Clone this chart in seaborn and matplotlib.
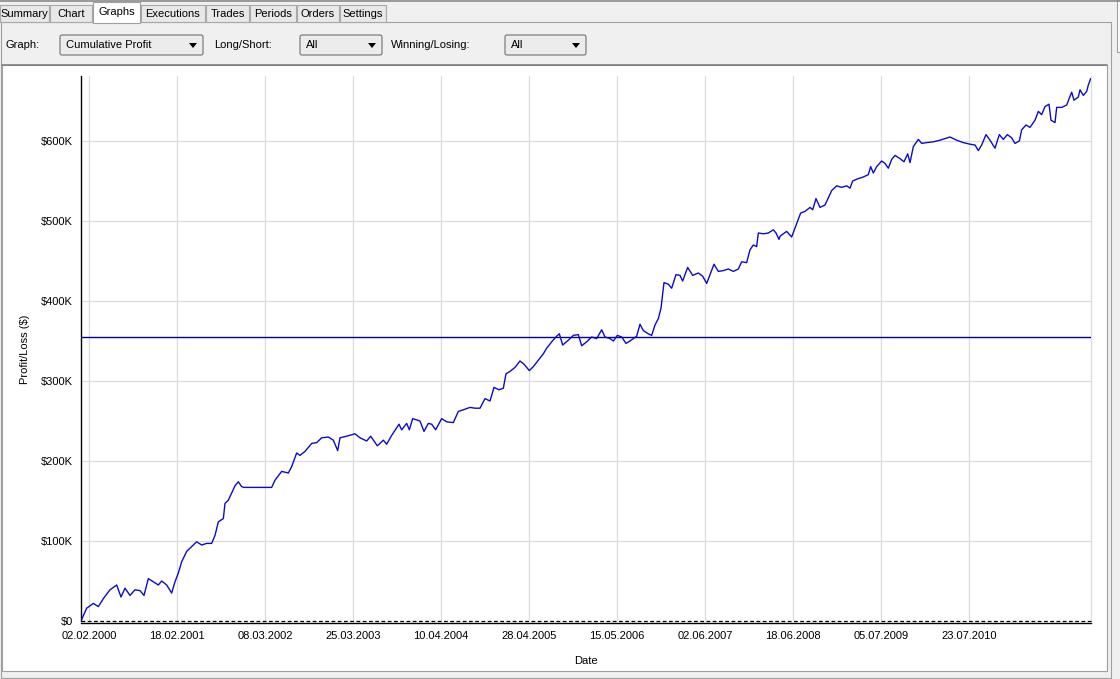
import matplotlib
matplotlib.use("Agg")
import matplotlib.pyplot as plt
import matplotlib.patches as mpatches
from matplotlib.ticker import FuncFormatter
import seaborn as sns

# trade number vs cumulative profit (in $K)
trade_no = [0, 17, 37, 52, 67, 87, 107, 120, 132, 147, 162, 177, 189, 202, 217, 232,
            242, 257, 272, 282, 292, 302, 317, 332, 347, 362, 377, 392, 402, 412, 427,
            432, 442, 452, 462, 472, 482, 489, 572, 582, 602, 622, 632, 647, 657, 672,
            692, 707, 722, 742, 757, 770, 777, 797, 822, 837, 857, 869, 889, 907, 917,
            932, 954, 962, 977, 985, 995, 1017, 1029, 1042, 1052, 1064, 1082, 1097,
            1117, 1132, 1147, 1167, 1182, 1197, 1212, 1227, 1239, 1254, 1267, 1275,
            1287, 1302, 1317, 1329, 1345, 1357, 1372, 1387, 1397, 1412, 1427, 1435,
            1445, 1462, 1477, 1492, 1502, 1517, 1532, 1547, 1562, 1572, 1587, 1597,
            1609, 1622, 1635, 1647, 1667, 1677, 1687, 1702, 1712, 1722, 1732, 1740,
            1749, 1762, 1772, 1785, 1797, 1805, 1820, 1835, 1852, 1865, 1877, 1889,
            1899, 1912, 1927, 1942, 1957, 1972, 1982, 1997, 2007, 2017, 2027, 2032,
            2047, 2062, 2077, 2085, 2094, 2097, 2117, 2132, 2142, 2159, 2172, 2187,
            2195, 2205, 2217, 2232, 2252, 2267, 2282, 2297, 2307, 2315, 2332, 2347,
            2362, 2369, 2377, 2387, 2402, 2412, 2422, 2432, 2442, 2457, 2469, 2480,
            2487, 2497, 2512, 2522, 2537, 2557, 2577, 2607, 2627, 2647, 2667, 2682,
            2692, 2702, 2715, 2727, 2742, 2755, 2767, 2779, 2792, 2802, 2815, 2822,
            2835, 2847, 2862, 2872, 2882, 2892, 2904, 2910, 2922, 2927, 2942, 2957,
            2972, 2979, 2992, 2997, 3007, 3017, 3022, 3029]
profit_k = [0, 16, 22, 18, 28, 39, 45, 30, 41, 32, 39, 38, 32, 53, 49, 45,
            50, 45, 35, 49, 60, 74, 87, 93, 99, 95, 97, 97, 107, 124, 128,
            147, 151, 160, 169, 174, 168, 167, 167, 176, 187, 185, 193, 210, 207, 212,
            222, 223, 229, 230, 226, 213, 229, 231, 234, 229, 225, 231, 219, 226, 221,
            232, 246, 239, 247, 239, 253, 250, 237, 247, 246, 239, 253, 249,
            248, 262, 264, 267, 266, 266, 278, 275, 292, 289, 291, 309,
            312, 317, 325, 321, 313, 318, 326, 334, 341, 349, 356, 359,
            345, 351, 357, 358, 344, 349, 355, 353, 364, 355, 353, 350,
            357, 355, 347, 350, 356, 371, 363, 359, 357, 370, 378, 391,
            423, 421, 416, 433, 432, 425, 442, 432, 435, 431, 422, 435,
            446, 437, 438, 440, 437, 440, 449, 448, 464, 470, 468, 485,
            484, 485, 489, 485, 477, 481, 487, 480, 491, 510, 512, 517,
            514, 528, 517, 520, 538, 544, 542, 544, 541, 550, 553, 555,
            558, 568, 560, 568, 575, 572, 566, 577, 582, 578, 574, 584,
            573, 593, 602, 597, 598, 599, 601, 605, 601, 598, 596, 595,
            588, 595, 608, 601, 591, 608, 602, 608, 604, 597, 600, 614,
            620, 617, 626, 637, 633, 643, 646, 626, 623, 642, 642, 645,
            661, 651, 655, 664, 657, 662, 670, 678]
profit = [v * 1000 for v in profit_k]

avg_line = 355000
date_ticks = [24, 288, 552, 816, 1080, 1344, 1608, 1872, 2136, 2400, 2664]
date_labels = ["02.02.2000", "18.02.2001", "08.03.2002", "25.03.2003", "10.04.2004",
               "28.04.2005", "15.05.2006", "02.06.2007", "18.06.2008", "05.07.2009",
               "23.07.2010"]
y_ticks = [0, 100000, 200000, 300000, 400000, 500000, 600000]

tabs = ["Summary", "Chart", "Graphs", "Executions", "Trades", "Periods", "Orders", "Settings"]
tab_edges = [0, 50, 93, 141, 206, 250, 297, 340, 387]

sns.set_style("white")
plt.rcParams["font.family"] = ["Liberation Sans", "DejaVu Sans"]
plt.rcParams["font.size"] = 8
plt.rcParams["text.color"] = "black"
plt.rcParams["axes.labelcolor"] = "black"
plt.rcParams["xtick.color"] = "black"
plt.rcParams["ytick.color"] = "black"

W, H = 1120, 679
fig = plt.figure(figsize=(W / 100, H / 100), dpi=100)
fig.patch.set_facecolor("#f0f0f0")

# window chrome drawn in pixel coordinates
bg = fig.add_axes([0, 0, 1, 1])
bg.set_xlim(0, W)
bg.set_ylim(H, 0)
bg.axis("off")

def box(x0, y0, x1, y1, fc, ec, lw=1.0, z=1):
    bg.add_patch(mpatches.Rectangle((x0, y0), x1 - x0, y1 - y0, facecolor=fc,
                                    edgecolor=ec, linewidth=lw, zorder=z))

bg.plot([0, W], [1, 1], color="#8a8a8a", lw=1.2)
box(0.5, 22, 1111, 678, "#f0f0f0", "#a0a0a0", 0.8)
box(1117, 0, W, 52, "white", "#a0a0a0", 0.8)
for i, name in enumerate(tabs):
    x0, x1 = tab_edges[i], tab_edges[i + 1] - 1
    if name == "Graphs":
        box(x0, 2, x1, 23, "white", "#a0a0a0", 0.8, z=3)
        bg.text((x0 + x1) / 2, 12, name, ha="center", va="center", fontsize=8, zorder=4)
    else:
        box(x0, 5, x1, 22, "#e8e8e8", "#a8a8a8", 0.8, z=2)
        bg.text((x0 + x1) / 2, 14, name, ha="center", va="center", fontsize=8, zorder=4)

def combo(x0, x1, label):
    bg.add_patch(mpatches.FancyBboxPatch((x0, 35), x1 - x0, 20,
                                         boxstyle="round,pad=0,rounding_size=2",
                                         facecolor="#ececec", edgecolor="#707070", lw=0.8))
    bg.text(x0 + 6, 45.5, label, ha="left", va="center", fontsize=8)
    bg.add_patch(mpatches.Polygon([(x1 - 14, 43), (x1 - 6, 43), (x1 - 10, 48)],
                                  closed=True, facecolor="black", edgecolor="none"))

bg.text(5, 45.5, "Graph:", ha="left", va="center", fontsize=8)
combo(60, 203, "Cumulative Profit")
bg.text(214, 45.5, "Long/Short:", ha="left", va="center", fontsize=8)
combo(300, 382, "All")
bg.text(391, 45.5, "Winning/Losing:", ha="left", va="center", fontsize=8)
combo(505, 586, "All")

box(2, 65, 1107, 671, "white", "#a0a0a0", 0.8)
bg.plot([2, 1107], [65, 65], color="#808080", lw=1.2)

# chart area
x_max = 3030
y_top = 681250
ax = fig.add_axes([81 / W, 1 - 621 / H, 1010 / W, 545 / H])
ax.set_facecolor("white")
sns.lineplot(x=trade_no, y=profit, ax=ax, color="#0c0cc8", lw=1.0,
             estimator=None, zorder=5)
ax.axhline(avg_line, color="#0000a0", lw=1.0, zorder=4)
ax.axhline(0, color="black", lw=0.9, ls=(0, (3, 2)), zorder=6, clip_on=False)

ax.set_xlim(0, x_max)
ax.set_ylim(0, y_top)
ax.set_xticks(date_ticks)
ax.set_xticklabels(date_labels)
ax.set_yticks(y_ticks)
ax.yaxis.set_major_formatter(FuncFormatter(
    lambda v, p: "$0" if v == 0 else "${:.0f}K".format(v / 1000)))
ax.grid(True, color="#dcdcdc", lw=0.9)
ax.tick_params(axis="both", length=4, width=1, color="black", labelcolor="black",
               labelsize=8, pad=2, direction="out")

ax.spines["top"].set_visible(False)
ax.spines["right"].set_color("#dcdcdc")
ax.spines["right"].set_linewidth(0.9)
ax.spines["left"].set_color("black")
ax.spines["left"].set_linewidth(1.0)
ax.spines["bottom"].set_color("black")
ax.spines["bottom"].set_linewidth(1.0)
ax.spines["bottom"].set_position(("outward", 1.5))

ax.set_xlabel("Date", fontsize=8, color="black")
ax.set_ylabel("Profit/Loss ($)", fontsize=8, color="black")
ax.xaxis.set_label_coords((586 - 81) / 1010, (621 - 656) / 545)
ax.yaxis.set_label_coords((30 - 81) / 1010, (621 - 349) / 545)

fig.savefig("out.png", dpi=100, facecolor=fig.get_facecolor())
